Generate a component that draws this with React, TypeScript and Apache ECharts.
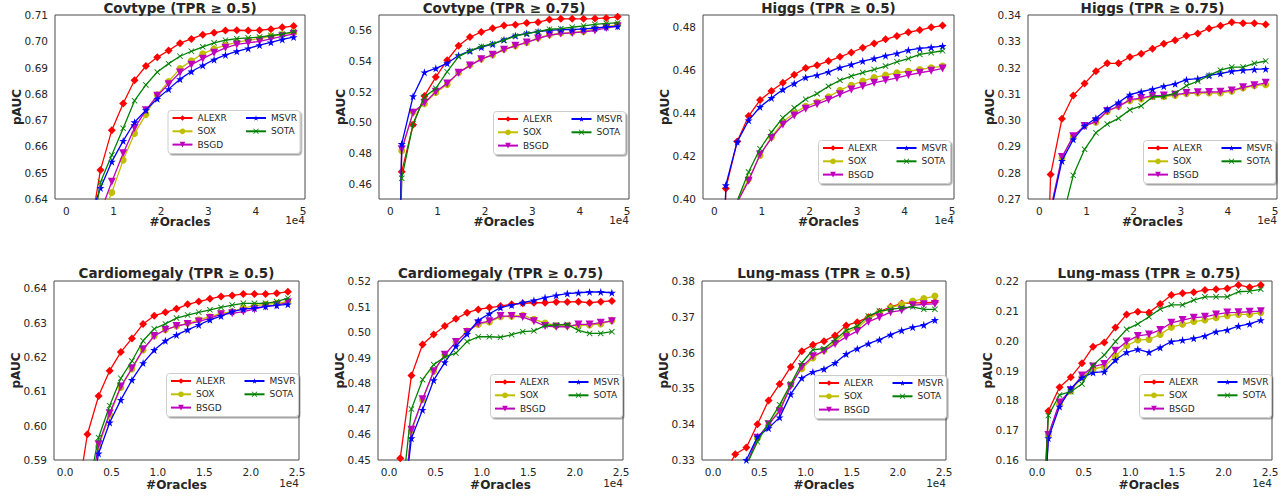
import React, { useEffect, useRef } from 'react';
import * as echarts from 'echarts';

// ---------- data ----------
const X_TOP = [0, 2400, 4800, 7200, 9600, 12000, 14400, 16800, 19200, 21600, 24000, 26400, 28800, 31200, 33600, 36000, 38400, 40800, 43200, 45600, 48000];
const X_BOTTOM = [0, 1200, 2400, 3600, 4800, 6000, 7200, 8400, 9600, 10800, 12000, 13200, 14400, 15600, 16800, 18000, 19200, 20400, 21600, 22800, 24000];
const X_TOP_TICKS = [0, 10000, 20000, 30000, 40000, 50000];
const X_BOTTOM_TICKS = [0, 5000, 10000, 15000, 20000, 25000];

const NAMES = ['ALEXR', 'SOX', 'BSGD', 'MSVR', 'SOTA'];
const LEGEND_COL1 = ['ALEXR', 'SOX', 'BSGD'];
const LEGEND_COL2 = ['MSVR', 'SOTA'];

// Covtype (TPR>=0.5)
const cov05_ALEXR = [0.50, 0.58, 0.625, 0.651, 0.6662, 0.6763, 0.6852, 0.6906, 0.6939, 0.6965, 0.6993, 0.7009, 0.7025, 0.7032, 0.7041, 0.7042, 0.7041, 0.7042, 0.7046, 0.7053, 0.7058];
const cov05_SOX = [0.50, 0.57, 0.60, 0.632, 0.6425, 0.6548, 0.6649, 0.6722, 0.6796, 0.6847, 0.6896, 0.6926, 0.6952, 0.6971, 0.6985, 0.6996, 0.7004, 0.7010, 0.7019, 0.7026, 0.7032];
const cov05_BSGD = [0.50, 0.57, 0.60, 0.635, 0.6466, 0.6574, 0.6670, 0.6738, 0.6793, 0.6837, 0.6881, 0.6911, 0.6934, 0.6956, 0.6975, 0.6988, 0.6994, 0.7000, 0.7009, 0.7019, 0.7028];
const cov05_MSVR = [0.50, 0.58, 0.6317, 0.6442, 0.6542, 0.6621, 0.6692, 0.6738, 0.6781, 0.6818, 0.6856, 0.6885, 0.6908, 0.6930, 0.6948, 0.6962, 0.6973, 0.6985, 0.6996, 0.7007, 0.7016];
const cov05_SOTA = [0.50, 0.58, 0.619, 0.6464, 0.6567, 0.6669, 0.6774, 0.6834, 0.6883, 0.6915, 0.6943, 0.6962, 0.6979, 0.6994, 0.7004, 0.7010, 0.7013, 0.7016, 0.7022, 0.7027, 0.7037];

// Covtype (TPR>=0.75)
const cov075_ALEXR = [0.10, 0.4677, 0.4984, 0.5172, 0.5295, 0.5405, 0.5499, 0.5556, 0.5589, 0.5613, 0.5631, 0.5637, 0.5648, 0.5653, 0.5670, 0.5675, 0.5675, 0.5675, 0.5677, 0.5681, 0.5688];
const cov075_SOX = [0.10, 0.4815, 0.5067, 0.5122, 0.5194, 0.5247, 0.5324, 0.5374, 0.5414, 0.5440, 0.5477, 0.5499, 0.5521, 0.5550, 0.5571, 0.5582, 0.5587, 0.5593, 0.5609, 0.5622, 0.5637];
const cov075_BSGD = [0.10, 0.4824, 0.5063, 0.5127, 0.5199, 0.5254, 0.5324, 0.5370, 0.5412, 0.5440, 0.5474, 0.5499, 0.5521, 0.5546, 0.5568, 0.5579, 0.5583, 0.5590, 0.5599, 0.5616, 0.5626];
const cov075_MSVR = [0.10, 0.4859, 0.5170, 0.5326, 0.5352, 0.5385, 0.5436, 0.5466, 0.5490, 0.5510, 0.5539, 0.5565, 0.5580, 0.5591, 0.5600, 0.5604, 0.5604, 0.5609, 0.5615, 0.5622, 0.5626];
const cov075_SOTA = [0.10, 0.4635, 0.4990, 0.5166, 0.5221, 0.5330, 0.5429, 0.5466, 0.5495, 0.5512, 0.5536, 0.5563, 0.5578, 0.5591, 0.5607, 0.5611, 0.5620, 0.5629, 0.5639, 0.5646, 0.5648];

// Higgs (TPR>=0.5)
const hig05_ALEXR = [0.20, 0.4049, 0.4267, 0.4385, 0.4459, 0.4501, 0.4540, 0.4577, 0.4608, 0.4621, 0.4640, 0.4660, 0.4680, 0.4702, 0.4722, 0.4741, 0.4757, 0.4774, 0.4784, 0.4797, 0.4805];
const hig05_SOX = [0.20, 0.37, 0.3992, 0.4093, 0.4202, 0.4287, 0.4357, 0.4399, 0.4430, 0.4450, 0.4474, 0.4505, 0.4528, 0.4547, 0.4564, 0.4575, 0.4586, 0.4593, 0.4601, 0.4609, 0.4617];
const hig05_BSGD = [0.20, 0.37, 0.3984, 0.4085, 0.4207, 0.4283, 0.4346, 0.4388, 0.4419, 0.4440, 0.4461, 0.4486, 0.4508, 0.4523, 0.4539, 0.4551, 0.4562, 0.4575, 0.4586, 0.4595, 0.4606];
const hig05_MSVR = [0.20, 0.4064, 0.4266, 0.4365, 0.4427, 0.4469, 0.4508, 0.4536, 0.4564, 0.4575, 0.4590, 0.4610, 0.4624, 0.4640, 0.4652, 0.4665, 0.4676, 0.4691, 0.4699, 0.4704, 0.4710];
const hig05_SOTA = [0.20, 0.37, 0.3992, 0.4125, 0.4233, 0.4310, 0.4377, 0.4423, 0.4463, 0.4489, 0.4523, 0.4551, 0.4570, 0.4587, 0.4601, 0.4617, 0.4637, 0.4652, 0.4671, 0.4679, 0.4688];

// Higgs (TPR>=0.75)
const hig075_ALEXR = [0.15, 0.2793, 0.3005, 0.3094, 0.3139, 0.3186, 0.3216, 0.3216, 0.3240, 0.3253, 0.3272, 0.3291, 0.3304, 0.3321, 0.3330, 0.3349, 0.3359, 0.3372, 0.3369, 0.3369, 0.3364];
const hig075_SOX = [0.15, 0.266, 0.2857, 0.2937, 0.2978, 0.2992, 0.3033, 0.3052, 0.3074, 0.3081, 0.3090, 0.3090, 0.3094, 0.3101, 0.3103, 0.3103, 0.3103, 0.3110, 0.3122, 0.3131, 0.3135];
const hig075_BSGD = [0.15, 0.266, 0.2860, 0.2939, 0.2978, 0.2994, 0.3035, 0.3052, 0.3078, 0.3084, 0.3093, 0.3094, 0.3097, 0.3103, 0.3106, 0.3107, 0.3108, 0.3113, 0.3125, 0.3133, 0.3142];
const hig075_MSVR = [0.15, 0.265, 0.2845, 0.2927, 0.2978, 0.3007, 0.3042, 0.3067, 0.3097, 0.3108, 0.3118, 0.3129, 0.3138, 0.3154, 0.3158, 0.3170, 0.3177, 0.3186, 0.3190, 0.3193, 0.3195];
const hig075_SOTA = [0.15, 0.22, 0.262, 0.2790, 0.2889, 0.2952, 0.2985, 0.3007, 0.3039, 0.3054, 0.3088, 0.3090, 0.3103, 0.3131, 0.3148, 0.3170, 0.3190, 0.3202, 0.3202, 0.3216, 0.3225];

// Cardiomegaly (TPR>=0.5)
const car05_ALEXR = [0.50, 0.577, 0.5975, 0.6086, 0.6160, 0.6214, 0.6254, 0.6296, 0.6320, 0.6330, 0.6340, 0.6353, 0.6361, 0.6369, 0.6376, 0.6379, 0.6383, 0.6383, 0.6383, 0.6385, 0.6390];
const car05_SOX = [0.50, 0.55, 0.575, 0.5939, 0.6031, 0.6111, 0.6165, 0.6220, 0.6261, 0.6279, 0.6290, 0.6298, 0.6308, 0.6317, 0.6327, 0.6332, 0.6342, 0.6349, 0.6353, 0.6356, 0.6361];
const car05_BSGD = [0.50, 0.55, 0.575, 0.5946, 0.6036, 0.6114, 0.6167, 0.6222, 0.6261, 0.6279, 0.6290, 0.6296, 0.6303, 0.6313, 0.6324, 0.6327, 0.6332, 0.6339, 0.6347, 0.6351, 0.6359];
const car05_MSVR = [0.50, 0.55, 0.572, 0.5919, 0.6009, 0.6075, 0.6133, 0.6182, 0.6220, 0.6247, 0.6264, 0.6279, 0.6293, 0.6308, 0.6319, 0.6332, 0.6339, 0.6342, 0.6347, 0.6350, 0.6353];
const car05_SOTA = [0.50, 0.55, 0.58, 0.5965, 0.6058, 0.6138, 0.6188, 0.6247, 0.6282, 0.6296, 0.6313, 0.6322, 0.6330, 0.6337, 0.6344, 0.6351, 0.6356, 0.6356, 0.6356, 0.6361, 0.6371];

// Cardiomegaly (TPR>=0.75)
const car075_ALEXR = [0.30, 0.4507, 0.4830, 0.4952, 0.4991, 0.5024, 0.5052, 0.5076, 0.5089, 0.5096, 0.5102, 0.5109, 0.5113, 0.5115, 0.5115, 0.5118, 0.5118, 0.5119, 0.5115, 0.5119, 0.5122];
const car075_SOX = [0.30, 0.42, 0.4611, 0.4736, 0.4847, 0.4912, 0.4961, 0.5004, 0.5030, 0.5040, 0.5060, 0.5062, 0.5066, 0.5050, 0.5036, 0.5025, 0.5025, 0.5027, 0.5028, 0.5032, 0.5046];
const car075_BSGD = [0.30, 0.42, 0.4618, 0.4738, 0.4847, 0.4912, 0.4961, 0.5001, 0.5034, 0.5043, 0.5063, 0.5063, 0.5059, 0.5043, 0.5024, 0.5021, 0.5021, 0.5030, 0.5030, 0.5037, 0.5043];
const car075_MSVR = [0.30, 0.42, 0.4585, 0.4696, 0.4812, 0.4882, 0.4945, 0.4993, 0.5046, 0.5072, 0.5096, 0.5106, 0.5115, 0.5124, 0.5135, 0.5144, 0.5151, 0.5154, 0.5157, 0.5157, 0.5154];
const car075_SOTA = [0.30, 0.43, 0.4699, 0.4814, 0.4873, 0.4903, 0.4918, 0.4963, 0.4982, 0.4982, 0.4980, 0.4990, 0.5002, 0.5005, 0.5026, 0.5028, 0.5030, 0.5007, 0.4995, 0.4995, 0.5002];

// Lung-mass (TPR>=0.5)
const lun05_ALEXR = [0.30, 0.326, 0.3316, 0.3335, 0.3400, 0.3466, 0.3512, 0.3560, 0.3604, 0.3622, 0.3632, 0.3648, 0.3676, 0.3685, 0.3699, 0.3714, 0.3728, 0.3737, 0.3739, 0.3739, 0.3741];
const lun05_SOX = [0.30, 0.31, 0.32, 0.3285, 0.3362, 0.3397, 0.3442, 0.3510, 0.3555, 0.3585, 0.3606, 0.3629, 0.3655, 0.3669, 0.3695, 0.3711, 0.3725, 0.3735, 0.3744, 0.3751, 0.3758];
const lun05_BSGD = [0.30, 0.31, 0.32, 0.3285, 0.3362, 0.3400, 0.3436, 0.3506, 0.3560, 0.3590, 0.3604, 0.3624, 0.3644, 0.3660, 0.3686, 0.3699, 0.3713, 0.3718, 0.3732, 0.3735, 0.3736];
const lun05_MSVR = [0.30, 0.31, 0.322, 0.3300, 0.3365, 0.3389, 0.3419, 0.3484, 0.3529, 0.3546, 0.3554, 0.3571, 0.3596, 0.3611, 0.3625, 0.3636, 0.3650, 0.3662, 0.3671, 0.3677, 0.3691];
const lun05_SOTA = [0.30, 0.31, 0.32, 0.3285, 0.3351, 0.3403, 0.3454, 0.3512, 0.3571, 0.3608, 0.3611, 0.3636, 0.3662, 0.3674, 0.3702, 0.3716, 0.3721, 0.3725, 0.3728, 0.3721, 0.3721];

// Lung-mass (TPR>=0.75)
const lun075_ALEXR = [0.10, 0.1764, 0.1844, 0.1877, 0.1924, 0.1980, 0.1994, 0.2044, 0.2088, 0.2097, 0.2094, 0.2123, 0.2153, 0.2159, 0.2162, 0.2170, 0.2172, 0.2175, 0.2187, 0.2179, 0.2187];
const lun075_SOX = [0.10, 0.1684, 0.1787, 0.1831, 0.1877, 0.1905, 0.1913, 0.1949, 0.1983, 0.2002, 0.2004, 0.2021, 0.2045, 0.2055, 0.2064, 0.2069, 0.2077, 0.2084, 0.2088, 0.2088, 0.2094];
const lun075_BSGD = [0.10, 0.1684, 0.1793, 0.1835, 0.1883, 0.1913, 0.1922, 0.1966, 0.1997, 0.2016, 0.2021, 0.2036, 0.2060, 0.2069, 0.2077, 0.2080, 0.2088, 0.2094, 0.2095, 0.2097, 0.2099];
const lun075_MSVR = [0.10, 0.1673, 0.1779, 0.1840, 0.1876, 0.1893, 0.1896, 0.1935, 0.1961, 0.1971, 0.1961, 0.1977, 0.1997, 0.2002, 0.2008, 0.2016, 0.2030, 0.2036, 0.2049, 0.2056, 0.2069];
const lun075_SOTA = [0.10, 0.1749, 0.1818, 0.1829, 0.1855, 0.1918, 0.1952, 0.1997, 0.2038, 0.2056, 0.2080, 0.2106, 0.2120, 0.2120, 0.2136, 0.2147, 0.2147, 0.2147, 0.2164, 0.2166, 0.2172];

// y tick labels
const Y_COV05 = [0.64, 0.65, 0.66, 0.67, 0.68, 0.69, 0.70, 0.71];
const Y_COV075 = [0.46, 0.48, 0.50, 0.52, 0.54, 0.56];
const Y_HIG05 = [0.40, 0.42, 0.44, 0.46, 0.48];
const Y_HIG075 = [0.27, 0.28, 0.29, 0.30, 0.31, 0.32, 0.33, 0.34];
const Y_CAR05 = [0.59, 0.60, 0.61, 0.62, 0.63, 0.64];
const Y_CAR075 = [0.45, 0.46, 0.47, 0.48, 0.49, 0.50, 0.51, 0.52];
const Y_LUN05 = [0.33, 0.34, 0.35, 0.36, 0.37, 0.38];
const Y_LUN075 = [0.16, 0.17, 0.18, 0.19, 0.20, 0.21, 0.22];

// ---------- layout / styling ----------
const FONT = '"DejaVu Sans", Verdana, sans-serif';
const TXT = '#262626';

const STAR = 'path://M0,-1 L0.2245,-0.309 L0.951,-0.309 L0.363,0.118 L0.588,0.809 L0,0.382 L-0.588,0.809 L-0.363,0.118 L-0.951,-0.309 L-0.2245,-0.309 Z';
const XMARK = 'path://M-0.8,-1 L0,-0.2 L0.8,-1 L1,-0.8 L0.2,0 L1,0.8 L0.8,1 L0,0.2 L-0.8,1 L-1,0.8 L-0.2,0 L-1,-0.8 Z';

const SERIES_STYLE: Record<string, any> = {
  ALEXR: { color: '#ff0000', symbol: 'diamond', size: 8, rotate: 0 },
  SOX: { color: '#bfbf00', symbol: 'circle', size: 7, rotate: 0 },
  BSGD: { color: '#bf00bf', symbol: 'triangle', size: 8, rotate: 180 },
  MSVR: { color: '#0000ff', symbol: STAR, size: 8, rotate: 0 },
  SOTA: { color: '#008000', symbol: XMARK, size: 6, rotate: 0 },
};

const LEG_W = 132;
const LEG_H = 43;

const PANELS = [
  { title: 'Covtype (TPR ≥ 0.5)', box: [55, 15, 250, 184], xs: X_TOP, xr: [-2400, 50400], xt: X_TOP_TICKS, xd: 0, yr: [0.64, 0.71], yt: Y_COV05, leg: [168, 110.5],
    ys: [cov05_ALEXR, cov05_SOX, cov05_BSGD, cov05_MSVR, cov05_SOTA] },
  { title: 'Covtype (TPR ≥ 0.75)', box: [379, 15, 250, 184], xs: X_TOP, xr: [-2400, 50400], xt: X_TOP_TICKS, xd: 0, yr: [0.45, 0.57], yt: Y_COV075, leg: [493.5, 111.5],
    ys: [cov075_ALEXR, cov075_SOX, cov075_BSGD, cov075_MSVR, cov075_SOTA] },
  { title: 'Higgs (TPR ≥ 0.5)', box: [703, 15, 251, 184], xs: X_TOP, xr: [-2400, 50400], xt: X_TOP_TICKS, xd: 0, yr: [0.40, 0.4854], yt: Y_HIG05, leg: [818.5, 140.5],
    ys: [hig05_ALEXR, hig05_SOX, hig05_BSGD, hig05_MSVR, hig05_SOTA] },
  { title: 'Higgs (TPR ≥ 0.75)', box: [1028, 15, 249, 184], xs: X_TOP, xr: [-2400, 50400], xt: X_TOP_TICKS, xd: 0, yr: [0.27, 0.34], yt: Y_HIG075, leg: [1143.5, 140.5],
    ys: [hig075_ALEXR, hig075_SOX, hig075_BSGD, hig075_MSVR, hig075_SOTA] },
  { title: 'Cardiomegaly (TPR ≥ 0.5)', box: [54, 281, 245, 179], xs: X_BOTTOM, xr: [-1200, 25200], xt: X_BOTTOM_TICKS, xd: 1, yr: [0.59, 0.6421], yt: Y_CAR05, leg: [166.5, 373.5],
    ys: [car05_ALEXR, car05_SOX, car05_BSGD, car05_MSVR, car05_SOTA] },
  { title: 'Cardiomegaly (TPR ≥ 0.75)', box: [378, 281, 245, 179], xs: X_BOTTOM, xr: [-1200, 25200], xt: X_BOTTOM_TICKS, xd: 1, yr: [0.45, 0.52], yt: Y_CAR075, leg: [490.5, 374.5],
    ys: [car075_ALEXR, car075_SOX, car075_BSGD, car075_MSVR, car075_SOTA] },
  { title: 'Lung-mass (TPR ≥ 0.5)', box: [702, 281, 244, 179], xs: X_BOTTOM, xr: [-1200, 25200], xt: X_BOTTOM_TICKS, xd: 1, yr: [0.33, 0.38], yt: Y_LUN05, leg: [814.5, 375.5],
    ys: [lun05_ALEXR, lun05_SOX, lun05_BSGD, lun05_MSVR, lun05_SOTA] },
  { title: 'Lung-mass (TPR ≥ 0.75)', box: [1026, 281, 246, 179], xs: X_BOTTOM, xr: [-1200, 25200], xt: X_BOTTOM_TICKS, xd: 1, yr: [0.16, 0.22], yt: Y_LUN075, leg: [1139.5, 374.5],
    ys: [lun075_ALEXR, lun075_SOX, lun075_BSGD, lun075_MSVR, lun075_SOTA] },
];

function legendCol(names: string[], left: number, top: number) {
  return {
    left, top, orient: 'vertical', padding: 0, z: 10,
    itemWidth: 20, itemHeight: 7, itemGap: 4.3,
    selectedMode: false,
    textStyle: { fontSize: 9, color: TXT, fontFamily: FONT, lineHeight: 9 },
    data: names,
  };
}

function buildOption() {
  const grid: any[] = [];
  const xAxis: any[] = [];
  const yAxis: any[] = [];
  const series: any[] = [];
  const legend: any[] = [];
  const graphic: any[] = [];

  PANELS.forEach((p, i) => {
    const [l, t, w, h] = p.box;
    grid.push({ left: l, top: t, width: w, height: h, show: true, borderColor: '#4a4a4a', borderWidth: 1, backgroundColor: '#ffffff' });
    xAxis.push({
      type: 'value', gridIndex: i, min: p.xr[0], max: p.xr[1],
      axisLine: { show: false }, axisTick: { show: false }, splitLine: { show: false },
      axisLabel: {
        customValues: p.xt, margin: 6, fontSize: 10.5, color: TXT, fontFamily: FONT,
        formatter: (v: number) => (v / 10000).toFixed(p.xd),
      },
    });
    yAxis.push({
      type: 'value', gridIndex: i, min: p.yr[0], max: p.yr[1],
      axisLine: { show: false }, axisTick: { show: false }, splitLine: { show: false },
      axisLabel: {
        customValues: p.yt, margin: 7, fontSize: 10.5, color: TXT, fontFamily: FONT,
        formatter: (v: number) => v.toFixed(2),
      },
    });
    NAMES.forEach((name, k) => {
      const st = SERIES_STYLE[name];
      series.push({
        type: 'line', name, xAxisIndex: i, yAxisIndex: i,
        data: p.xs.map((x, j) => [x, p.ys[k][j]]),
        symbol: st.symbol, symbolSize: st.size, symbolRotate: st.rotate,
        itemStyle: { color: st.color },
        lineStyle: { color: st.color, width: 1.3 },
        clip: true, z: 2 + k * 0.01,
      });
    });
    const [bx, by] = p.leg;
    graphic.push({
      type: 'rect', z: 8,
      shape: { x: bx, y: by, width: LEG_W, height: LEG_H, r: 3 },
      style: { fill: '#ffffff', stroke: '#cccccc', lineWidth: 1, shadowBlur: 1.5, shadowColor: 'rgba(0,0,0,0.35)', shadowOffsetX: 1.5, shadowOffsetY: 1.5 },
    });
    legend.push(legendCol(LEGEND_COL1, bx + 3.5, by + 3));
    legend.push(legendCol(LEGEND_COL2, bx + 77, by + 3));

    const cx = l + w / 2;
    const top = t < 100;
    graphic.push({
      type: 'text', x: cx, y: top ? 8 : 273,
      style: { text: p.title, fontSize: 13.5, fontWeight: 'bold', fontFamily: FONT, fill: TXT, align: 'center', verticalAlign: 'middle' },
    });
    graphic.push({
      type: 'text', x: cx, y: top ? 222 : 485,
      style: { text: '#Oracles', fontSize: 12, fontWeight: 'bold', fontFamily: FONT, fill: TXT, align: 'center', verticalAlign: 'middle' },
    });
    graphic.push({
      type: 'text', x: l + w, y: top ? 220 : 483,
      style: { text: '1e4', fontSize: 10.5, fontFamily: FONT, fill: TXT, align: 'right', verticalAlign: 'middle' },
    });
    graphic.push({
      type: 'text', x: l - 38, y: t + h / 2, rotation: Math.PI / 2,
      style: { text: 'pAUC', fontSize: 12, fontWeight: 'bold', fontFamily: FONT, fill: TXT, align: 'center', verticalAlign: 'middle' },
    });
  });

  return { animation: false, backgroundColor: '#ffffff', grid, xAxis, yAxis, series, legend, graphic };
}

export default function App() {
  const ref = useRef<HTMLDivElement>(null);
  useEffect(() => {
    if (!ref.current) return;
    const chart = echarts.init(ref.current, undefined, { renderer: 'svg' });
    chart.setOption(buildOption() as any);
    return () => chart.dispose();
  }, []);
  return <div ref={ref} style={{ position: 'absolute', left: 0, top: 0, width: 1288, height: 496 }} />;
}
